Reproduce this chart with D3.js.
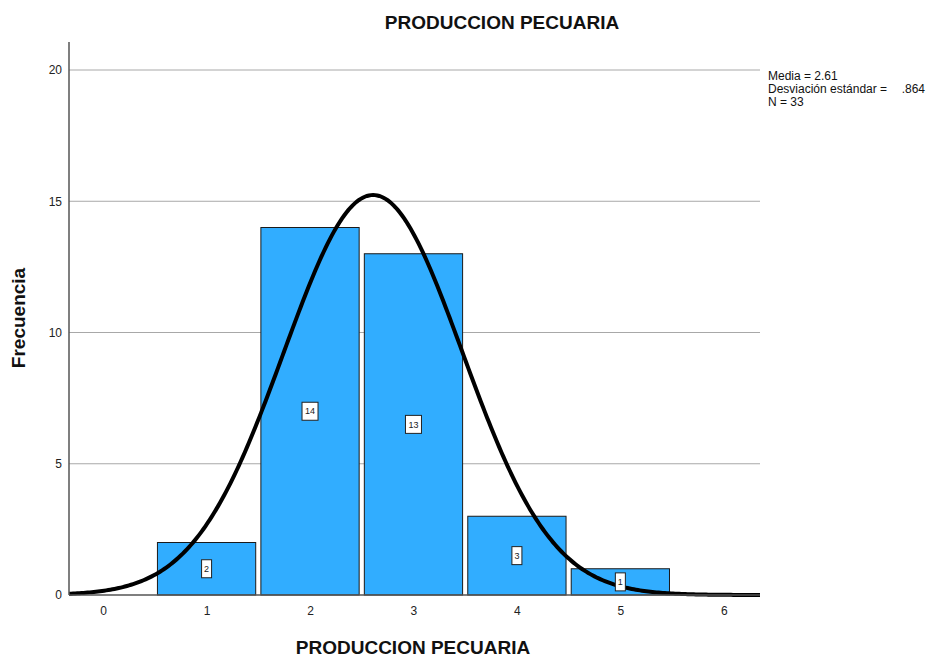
<!DOCTYPE html>
<html><head><meta charset="utf-8">
<script src="https://cdn.jsdelivr.net/npm/d3@7"></script>
<style>body{margin:0;background:#fff}svg{display:block;font-family:"Liberation Sans",Arial,sans-serif}</style>
</head><body><svg id="c" width="928" height="659"></svg>
<script>
const categories = [1, 2, 3, 4, 5];
const counts = [2, 14, 13, 3, 1];
const xTicks = [0, 1, 2, 3, 4, 5, 6];
const yTicks = [0, 5, 10, 15, 20];
const stats = {mean: 2.61, sd: 0.864, n: 33};
const legendLines = ["Media = 2.61", "Desviación estándar =", "N = 33"];

const svg = d3.select("#c");
const L = 69, R = 760, T = 42, B = 595;
const x = d3.scaleLinear().domain([-0.33, 6.35]).range([L, R]);
const y = d3.scaleLinear().domain([0, 20]).range([B, 70]);

// gridlines
svg.append("g").selectAll("line").data(yTicks.filter(d => d > 0)).join("line")
  .attr("x1", L).attr("x2", R).attr("y1", d => y(d)).attr("y2", d => y(d))
  .attr("stroke", "#a8a8a8").attr("stroke-width", 1);

// bars
const bw = x(0.95) - x(0);
svg.append("g").selectAll("rect").data(categories).join("rect")
  .attr("x", (d) => x(d) - bw / 2).attr("width", bw)
  .attr("y", (d, i) => y(counts[i])).attr("height", (d, i) => B - y(counts[i]))
  .attr("fill", "#31adff").attr("stroke", "#1a1a1a").attr("stroke-width", 1);

// normal curve
const pdf = v => stats.n * 1 * Math.exp(-0.5 * ((v - stats.mean) / stats.sd) ** 2) / (stats.sd * Math.sqrt(2 * Math.PI));
const xs = d3.range(-0.33, 6.351, 0.02);
svg.append("path").datum(xs)
  .attr("d", d3.line().x(d => x(d)).y(d => y(pdf(d))))
  .attr("fill", "none").attr("stroke", "#000").attr("stroke-width", 4);

// value labels
const lg = svg.append("g").selectAll("g").data(categories).join("g")
  .attr("transform", (d, i) => `translate(${x(d)},${y(counts[i] / 2)})`);
lg.append("rect")
  .attr("x", (d, i) => String(counts[i]).length > 1 ? -8 : -5)
  .attr("width", (d, i) => String(counts[i]).length > 1 ? 16 : 10)
  .attr("y", -9).attr("height", 18)
  .attr("fill", "#fff").attr("stroke", "#222").attr("stroke-width", 1);
lg.append("text").attr("text-anchor", "middle").attr("dy", "0.35em")
  .attr("font-size", 9).attr("fill", "#222").text((d, i) => counts[i]);

// axes
const yAxis = d3.axisLeft(y).tickValues(yTicks).tickFormat(d3.format("d")).tickSize(0).tickPadding(7);
const gy = svg.append("g").attr("transform", `translate(${L},0)`).call(yAxis);
gy.select(".domain").remove();
gy.selectAll("text").attr("font-size", 12).attr("fill", "#222").attr("font-family", "Liberation Sans, Arial, sans-serif");
const xAxis = d3.axisBottom(x).tickValues(xTicks).tickFormat(d3.format("d")).tickSize(0).tickPadding(11);
const gx = svg.append("g").attr("transform", `translate(0,${B})`).call(xAxis);
gx.select(".domain").remove();
gx.selectAll("text").attr("font-size", 12).attr("fill", "#222").attr("font-family", "Liberation Sans, Arial, sans-serif");

svg.append("line").attr("x1", L).attr("x2", L).attr("y1", T).attr("y2", B).attr("stroke", "#555").attr("stroke-width", 1.5);
svg.append("line").attr("x1", L).attr("x2", R).attr("y1", B).attr("y2", B).attr("stroke", "#555").attr("stroke-width", 1.5);

// titles
svg.append("text").attr("x", 502).attr("y", 29).attr("text-anchor", "middle")
  .attr("font-size", 19).attr("font-weight", "bold").attr("fill", "#111").text("PRODUCCION PECUARIA");
svg.append("text").attr("x", 413).attr("y", 654).attr("text-anchor", "middle")
  .attr("font-size", 19).attr("font-weight", "bold").attr("fill", "#111").text("PRODUCCION PECUARIA");
svg.append("text").attr("transform", "translate(25,318) rotate(-90)").attr("text-anchor", "middle")
  .attr("font-size", 19).attr("font-weight", "bold").attr("fill", "#111").text("Frecuencia");

// legend
const leg = svg.append("g").attr("font-size", 12).attr("fill", "#111");
leg.selectAll("text").data(legendLines).join("text")
  .attr("x", 768).attr("y", (d, i) => 80 + i * 13).text(d => d);
leg.append("text").attr("x", 925).attr("y", 93).attr("text-anchor", "end").text(".864");
</script></body></html>
